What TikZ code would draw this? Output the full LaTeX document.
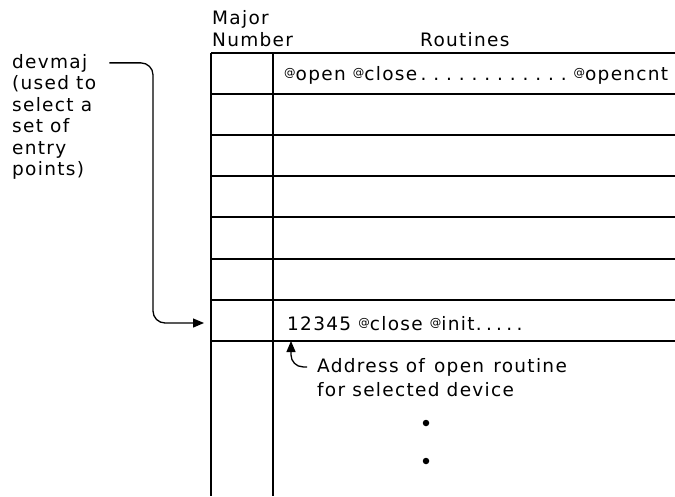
\documentclass[tikz,border=0pt]{standalone}
\usepackage{fontspec}
\setmainfont{DejaVu Sans}[LetterSpace=7]
\usetikzlibrary{arrows.meta,calc}
\newcommand\atsign{\raisebox{3.5pt}{\fontsize{11.5}{11.5}\selectfont @}}
\newcommand\dd{.\hspace{4.3pt}}
\begin{document}
\begin{tikzpicture}[x=1pt,y=-1pt,
  txt/.style={font=\fontsize{18.5}{21.5}\selectfont, inner sep=0pt, anchor=base west},
  grid/.style={line width=1.3pt},
  conn/.style={line width=1.3pt, rounded corners=12pt, -{Triangle[length=11pt,width=9pt]}},
  bullet/.style={circle, fill, inner sep=0pt, minimum size=6.5pt}]
\useasboundingbox (0,0) rectangle (675,496);
% table
\draw[grid] (211,53) -- (211,496);
\draw[grid] (273,53) -- (273,496);
\foreach \y in {53,94,135,176,217,259,300,341}
  \draw[grid] (211,\y) -- (675,\y);
% headers
\node[txt] (major) at (212,24) {Major};
\node[txt] (number) at (212,46) {Number};
\node[txt] (routines) at (420,46) {Routines};
% rows
\node[txt] (row1) at (284,80) {\makebox[384pt][l]{\atsign open \atsign close\hspace{3pt}\xleaders\hbox to 12.4pt{.\hss}\hfill\atsign opencnt}};
\node[txt] (row7) at (287,330) {12345 \atsign close \atsign init\dd\dd\dd\dd.};
\node[txt] (addr1) at (317,372) {Address of\hspace{2pt} open\hspace{2pt} routine};
\node[txt] (addr2) at (317,396) {for selected device};
% left labels
\node[txt] (devmaj) at (12,68) {devmaj};
\node[txt] (l2) at (12,89.5) {(used to};
\node[txt] (l3) at (12,111) {select a};
\node[txt] (l4) at (12,132.5) {set of};
\node[txt] (l5) at (12,154) {entry};
\node[txt] (l6) at (12,175.5) {points)};
% bullets
\node[bullet] (b1) at (426,423) {};
\node[bullet] (b2) at (426,461) {};
% connectors
\coordinate (entry) at (204,323);
\coordinate (tip) at (291,341);
\draw[conn] ($(devmaj.east)+(22,0)$) -- (153,64 |- devmaj.east) -- (153,323) -- (entry);
\draw[conn] ($(addr1.west)+(-10,0)$) -- (tip |- addr1.west) -- (tip);
\end{tikzpicture}
\end{document}
